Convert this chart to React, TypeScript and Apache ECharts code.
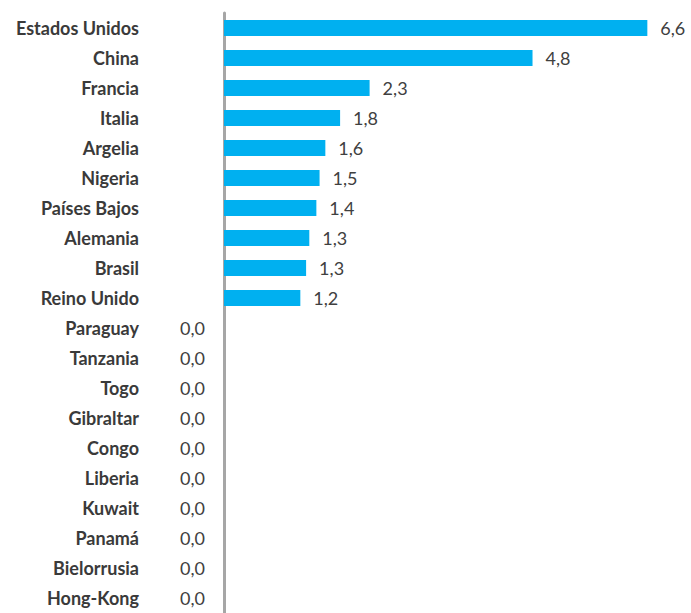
import React, { useEffect, useRef } from "react";
import * as echarts from "echarts";

const categories = [
  "Estados Unidos", "China", "Francia", "Italia", "Argelia", "Nigeria",
  "Países Bajos", "Alemania", "Brasil", "Reino Unido", "Paraguay", "Tanzania",
  "Togo", "Gibraltar", "Congo", "Liberia", "Kuwait", "Panamá", "Bielorrusia", "Hong-Kong",
];
const values = [
  6.6, 4.81, 2.27, 1.81, 1.58, 1.49, 1.44, 1.33, 1.28, 1.19,
  0, 0, 0, 0, 0, 0, 0, 0, 0, 0,
];

export default function App() {
  const ref = useRef<HTMLDivElement>(null);
  useEffect(() => {
    const chart = echarts.init(ref.current!, null, { renderer: "svg" });
    const data = values.map((v) => ({
      value: v,
      label: v === 0
        ? { position: "left", distance: 19 }
        : { position: "right", distance: 13 },
    }));
    chart.setOption({
      animation: false,
      grid: { left: 224, top: 13, width: 449, height: 603, containLabel: false },
      xAxis: {
        type: "value",
        min: 0,
        max: 7,
        show: false,
        splitLine: { show: false },
      },
      yAxis: {
        type: "category",
        inverse: true,
        data: categories,
        axisLine: { show: true, lineStyle: { color: "#A6A6A6", width: 3 } },
        axisTick: { show: false },
        axisLabel: {
          margin: 85,
          color: "#3a3a3a",
          fontWeight: "bold",
          fontSize: 18,
          fontFamily: "Lato",
        },
      },
      series: [
        {
          type: "bar",
          data,
          barWidth: 16,
          itemStyle: { color: "#00B0F0" },
          label: {
            show: true,
            color: "#404040",
            fontSize: 18,
            fontFamily: "Lato",
            formatter: (p: any) => p.value.toFixed(1).replace(".", ","),
          },
        },
      ],
    });
    return () => chart.dispose();
  }, []);
  return (
    <div
      ref={ref}
      style={{ position: "absolute", left: 0, top: 0, width: 691, height: 613, background: "#fff" }}
    />
  );
}
